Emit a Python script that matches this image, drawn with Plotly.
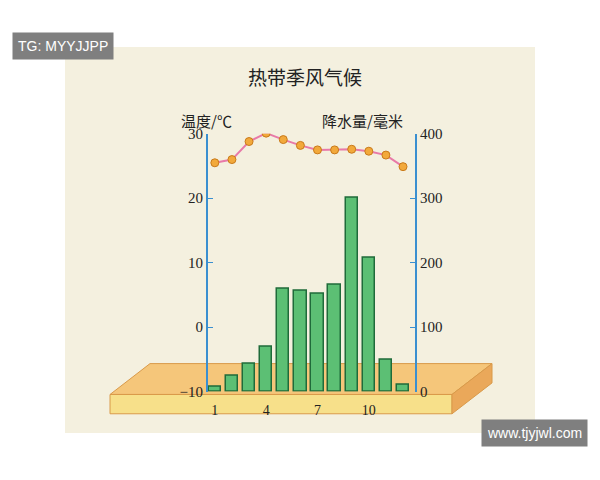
import plotly.graph_objects as go

months = list(range(1, 13))
temperature = [25.5, 26, 28.8, 30.1, 29.1, 28.2, 27.5, 27.5, 27.6, 27.3, 26.7, 24.9]
precipitation = [8, 24, 43, 69, 160, 156, 151, 165, 301, 208, 50, 10]
month_ticks = [1, 4, 7, 10]
temp_ticks = [-10, 0, 10, 20, 30]
prec_ticks = [0, 100, 200, 300, 400]

W, H = 584, 464
OFF = 8
def fx(x):
    return (x - OFF) / W
def fy(y):
    return 1 - (y - OFF) / H

def path(pts):
    s = ""
    for i, (x, y) in enumerate(pts):
        s += ("M" if i == 0 else "L") + f"{fx(x):.4f},{fy(y):.4f} "
    return s + "Z"

fig = go.Figure()
fig.add_trace(go.Bar(x=months, y=precipitation, yaxis="y2", width=0.72,
                     marker=dict(color="#5cbf74", line=dict(color="#1f6b3a", width=1.5))))
fig.add_trace(go.Scatter(x=months, y=temperature, mode="lines+markers",
                         line=dict(color="#e87aa8", width=2),
                         marker=dict(color="#f2a93b", size=8, line=dict(color="#c97a1a", width=1))))

shapes = [
    dict(type="rect", xref="paper", yref="paper", x0=fx(65), x1=fx(535), y0=fy(440), y1=fy(40),
         fillcolor="#f4f0df", line=dict(width=0), layer="below"),
    dict(type="path", xref="paper", yref="paper", path=path([(110, 400), (150, 368), (492, 368), (452, 400)]),
         fillcolor="#f5c67a", line=dict(color="#d99a4a", width=1), layer="below"),
    dict(type="path", xref="paper", yref="paper", path=path([(110, 400), (452, 400), (452, 420), (110, 420)]),
         fillcolor="#f7e08a", line=dict(color="#d99a4a", width=1), layer="below"),
    dict(type="path", xref="paper", yref="paper", path=path([(452, 400), (492, 368), (492, 388), (452, 420)]),
         fillcolor="#eaa85a", line=dict(color="#d99a4a", width=1), layer="below"),
]

fig.update_layout(
    width=W, height=H, margin=dict(l=0, r=0, t=0, b=0),
    paper_bgcolor="white", plot_bgcolor="rgba(0,0,0,0)", showlegend=False,
    shapes=shapes, bargap=0,
    font=dict(family="Noto Sans CJK SC", color="#222"),
    xaxis=dict(domain=[fx(208), fx(415)], range=[0.6, 12.7], tickvals=month_ticks,
               showgrid=False, zeroline=False, ticks="", ticklabelstandoff=8,
               tickfont=dict(size=14, family="Liberation Serif")),
    yaxis=dict(domain=[fy(397), fy(130)], range=[-10, 30], tickvals=temp_ticks,
               showgrid=False, zeroline=False, showline=True, linecolor="#3a8fd0", linewidth=2,
               ticks="inside", tickcolor="#3a8fd0", ticklen=5,
               tickfont=dict(size=15, family="Liberation Serif")),
    yaxis2=dict(domain=[fy(397), fy(130)], range=[0, 400], tickvals=prec_ticks, overlaying="y",
                side="right", showgrid=False, zeroline=False, showline=True, linecolor="#3a8fd0",
                linewidth=2, ticks="inside", tickcolor="#3a8fd0", ticklen=5,
                tickfont=dict(size=15, family="Liberation Serif")),
    annotations=[
        dict(text="热带季风气候", x=fx(305), y=fy(55), xref="paper", yref="paper", showarrow=False,
             font=dict(size=19, family="Noto Sans CJK SC")),
        dict(text="温度/℃", x=fx(207), y=fy(103), xref="paper", yref="paper", showarrow=False,
             font=dict(size=15)),
        dict(text="降水量/毫米", x=fx(405), y=fy(103), xref="paper", yref="paper", showarrow=False,
             font=dict(size=15)),
        dict(text="TG: MYYJJPP", x=fx(12), y=fy(25), xref="paper", yref="paper", showarrow=False,
             xanchor="left", bgcolor="#7f7f7f", font=dict(size=14, color="white", family="Liberation Sans"),
             borderpad=5),
        dict(text="www.tjyjwl.com", x=fx(588), y=fy(454), xref="paper", yref="paper", showarrow=False,
             xanchor="right", bgcolor="#7f7f7f", font=dict(size=14, color="white", family="Liberation Sans"),
             borderpad=5),
    ],
)
fig.write_html("out.html")
